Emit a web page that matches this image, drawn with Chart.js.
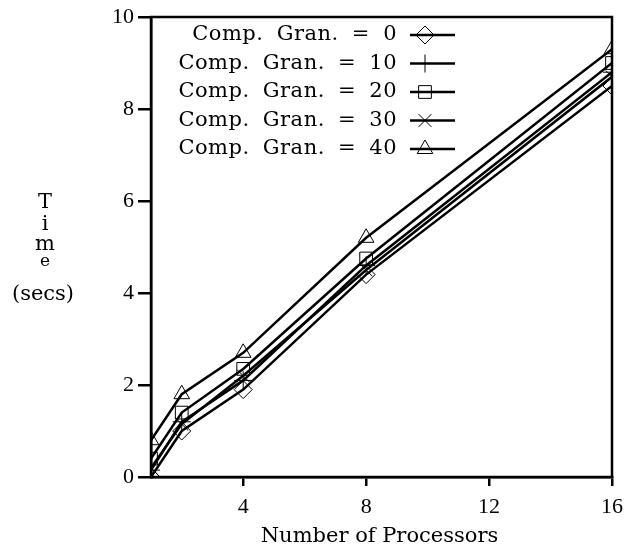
<!DOCTYPE html>
<html>
<head>
<meta charset="utf-8">
<script src="https://cdn.jsdelivr.net/npm/chart.js@4"></script>
<style>
  html, body { margin: 0; padding: 0; background: #fff; }
  #wrap { width: 628px; height: 552px; }
</style>
</head>
<body>
<div id="wrap"><canvas id="timeChart" width="628" height="552"></canvas></div>
<script>
const processors = [1, 2, 4, 8, 16];
const xTicks = [4, 8, 12, 16];
const yTicks = [0, 2, 4, 6, 8, 10];

const gran0 = [0.0, 1.0, 1.9, 4.4, 8.5];
const gran10 = [0.15, 1.2, 2.1, 4.6, 8.8];
const gran20 = [0.4, 1.4, 2.35, 4.75, 9.0];
const gran30 = [0.2, 1.15, 2.2, 4.5, 8.7];
const gran40 = [0.8, 1.8, 2.7, 5.2, 9.3];

const labels = ["Comp. Gran. = 0", "Comp. Gran. = 10", "Comp. Gran. = 20", "Comp. Gran. = 30", "Comp. Gran. = 40"];
const markers = ["rectRot", "cross", "rect", "crossRot", "triangle"];
const series = [gran0, gran10, gran20, gran30, gran40];

const TICKFONT = "'Liberation Serif', serif";
const TEXTFONT = "'DejaVu Serif', serif";

function makeDataset(vals, i) {
  return {
    label: labels[i],
    data: vals.map((v, k) => ({ x: processors[k], y: v })),
    borderColor: "#000",
    borderWidth: 2.5,
    pointStyle: markers[i],
    pointRadius: 9,
    pointBorderWidth: 1,
    pointBorderColor: "#000",
    pointBackgroundColor: "rgba(0,0,0,0)",
    tension: 0
  };
}

// frame, legend, x title and the stacked y title
const extras = {
  id: "extras",
  afterDraw(c) {
    const ctx = c.ctx;
    const a = c.chartArea;
    ctx.save();
    ctx.strokeStyle = "#000";
    ctx.lineWidth = 2.5;
    ctx.strokeRect(a.left, a.top, a.right - a.left, a.bottom - a.top);

    // legend
    ctx.font = "21px " + TEXTFONT;
    ctx.textAlign = "right";
    ctx.textBaseline = "middle";
    ctx.wordSpacing = "6px";
    ctx.letterSpacing = "0.5px";
    c.data.datasets.forEach((ds, i) => {
      const y = a.top + 18 + i * 28.5;
      ctx.fillStyle = "#000";
      ctx.fillText(ds.label, a.left + 246, y);
      ctx.lineWidth = 2.5;
      ctx.beginPath();
      ctx.moveTo(a.left + 259, y);
      ctx.lineTo(a.left + 304, y);
      ctx.stroke();
      ctx.lineWidth = 1;
      ctx.fillStyle = "rgba(0,0,0,0)";
      Chart.helpers.drawPoint(ctx, {
        pointStyle: ds.pointStyle, radius: 9, borderWidth: 1, rotation: 0
      }, a.left + 274, y);
    });
    ctx.wordSpacing = "0px";
    ctx.letterSpacing = "0px";

    // x title
    ctx.fillStyle = "#000";
    ctx.textAlign = "center";
    ctx.textBaseline = "alphabetic";
    ctx.font = "21px " + TEXTFONT;
    ctx.fillText("Number of Processors", (a.left + a.right) / 2 - 2, 542);

    // y title
    ctx.fillText("T", 45, 208);
    ctx.fillText("i", 45, 230);
    ctx.fillText("m", 45, 250);
    ctx.font = "17px " + TEXTFONT;
    ctx.fillText("e", 45, 266);
    ctx.font = "21px " + TEXTFONT;
    ctx.fillText("(secs)", 43, 300);
    ctx.restore();
  }
};

new Chart(document.getElementById("timeChart"), {
  type: "line",
  data: { datasets: series.map(makeDataset) },
  options: {
    responsive: false,
    animation: false,
    layout: { padding: { top: 17, right: 16, left: 0, bottom: 0 } },
    plugins: { legend: { display: false }, tooltip: { enabled: false } },
    scales: {
      x: {
        type: "linear",
        min: 1,
        max: 16,
        afterBuildTicks: s => { s.ticks = xTicks.map(v => ({ value: v })); },
        afterFit: s => { s.height = 75; s.paddingRight = 0; s.paddingLeft = 0; },
        grid: { drawOnChartArea: false, drawTicks: true, tickLength: 9, color: "#000", lineWidth: 2.5 },
        border: { display: true, color: "#000", width: 2.5 },
        ticks: { color: "#000", font: { family: TICKFONT, size: 22 }, padding: 8, maxRotation: 0 }
      },
      y: {
        type: "linear",
        min: 0,
        max: 10,
        afterBuildTicks: s => { s.ticks = yTicks.map(v => ({ value: v })); },
        afterFit: s => { s.width = 151; s.paddingTop = 0; s.paddingBottom = 0; },
        grid: { drawOnChartArea: false, drawTicks: true, tickLength: 13, color: "#000", lineWidth: 2.5 },
        border: { display: true, color: "#000", width: 2.5 },
        ticks: { color: "#000", font: { family: TICKFONT, size: 22 }, padding: 4 }
      }
    }
  },
  plugins: [extras]
});
</script>
</body>
</html>
